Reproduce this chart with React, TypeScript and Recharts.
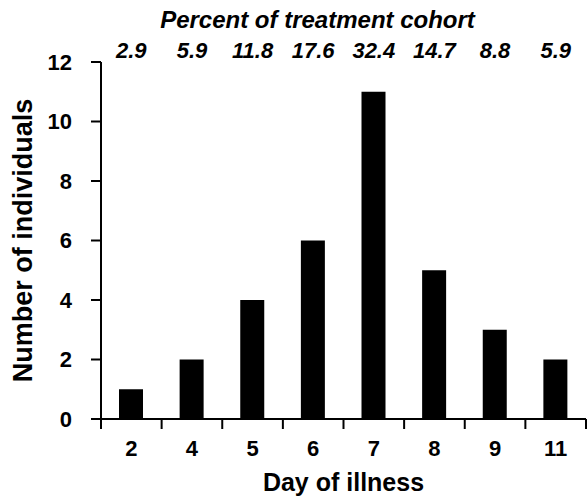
import { BarChart, Bar, XAxis, YAxis } from "recharts";

// day of illness categories and counts per day
const days = ["2", "4", "5", "6", "7", "8", "9", "11"];
const counts = [1, 2, 4, 6, 11, 5, 3, 2];
// percent of treatment cohort, shown above each column
const percents = ["2.9", "5.9", "11.8", "17.6", "32.4", "14.7", "8.8", "5.9"];
const yTicks = [0, 2, 4, 6, 8, 10, 12];

const FONT = "'Liberation Sans', Arial, Helvetica, sans-serif";

// each column sits in the middle of its own unit slot on a numeric axis
const data = days.map((day, i) => ({ day, count: counts[i], pos: i + 0.5 }));
// tick marks on the slot boundaries, labels on the slot centres
const boundaries = [...days.map((_, i) => i), days.length];
const xTicks = [...boundaries, ...data.map((d) => d.pos)].sort((a, b) => a - b);

function DayTick({ x, y, payload }: any) {
    const v = payload.value;
    if (Number.isInteger(v)) {
        return <line x1={x} y1={y} x2={x} y2={y + 10} stroke="#000" strokeWidth={2} />;
    }
    return (
        <text
            x={x}
            y={y + 21}
            dy="0.71em"
            textAnchor="middle"
            fill="#000"
            fontSize={22}
            fontWeight="bold"
            fontFamily={FONT}
        >
            {days[Math.floor(v)]}
        </text>
    );
}

function TitleLabel({ viewBox }: any) {
    if (!viewBox) return null;
    const cx = viewBox.x + viewBox.width / 2 - 26;
    return (
        <text
            x={cx}
            y={28}
            textAnchor="middle"
            fontFamily={FONT}
            fontSize={24}
            fontWeight="bold"
            fontStyle="italic"
            fill="#000"
        >
            Percent of treatment cohort
        </text>
    );
}

export default function App() {
    return (
        <div style={{ position: "absolute", left: 0, top: 0, background: "#fff" }}>
            <BarChart
                width={587}
                height={498}
                data={data}
                margin={{ top: 0, right: 1, bottom: 0, left: 0 }}
            >
                <XAxis
                    xAxisId="days"
                    type="number"
                    dataKey="pos"
                    domain={[0, days.length]}
                    ticks={xTicks}
                    interval={0}
                    allowDataOverflow
                    orientation="bottom"
                    height={79}
                    tickSize={0}
                    tickMargin={0}
                    tickLine={false}
                    stroke="#000"
                    strokeWidth={2}
                    tick={<DayTick />}
                    label={{
                        value: "Day of illness",
                        position: "insideBottom",
                        offset: 7,
                        fill: "#000",
                        stroke: "none",
                        fontSize: 25,
                        fontWeight: "bold",
                        fontFamily: FONT,
                    }}
                />
                <XAxis
                    xAxisId="pct"
                    dataKey="day"
                    orientation="top"
                    height={62}
                    axisLine={false}
                    tickLine={false}
                    tickSize={0}
                    tickMargin={4}
                    tickFormatter={(_v: string, i: number) => percents[i]}
                    tick={{
                        fill: "#000",
                        fontSize: 22,
                        fontWeight: "bold",
                        fontStyle: "italic",
                        fontFamily: FONT,
                    }}
                    label={<TitleLabel />}
                />
                <YAxis
                    domain={[0, 12]}
                    ticks={yTicks}
                    width={101}
                    tickSize={10}
                    tickMargin={19}
                    stroke="#000"
                    strokeWidth={2}
                    tick={{ fill: "#000", stroke: "none", fontSize: 22, fontWeight: "bold", fontFamily: FONT }}
                    label={{
                        value: "Number of individuals",
                        angle: -90,
                        position: "insideLeft",
                        offset: 22,
                        fill: "#000",
                        stroke: "none",
                        fontSize: 27,
                        fontWeight: "bold",
                        fontFamily: FONT,
                        style: { textAnchor: "middle" },
                    }}
                />
                <Bar
                    xAxisId="days"
                    dataKey="count"
                    fill="#000"
                    barSize={24}
                    isAnimationActive={false}
                />
            </BarChart>
        </div>
    );
}
